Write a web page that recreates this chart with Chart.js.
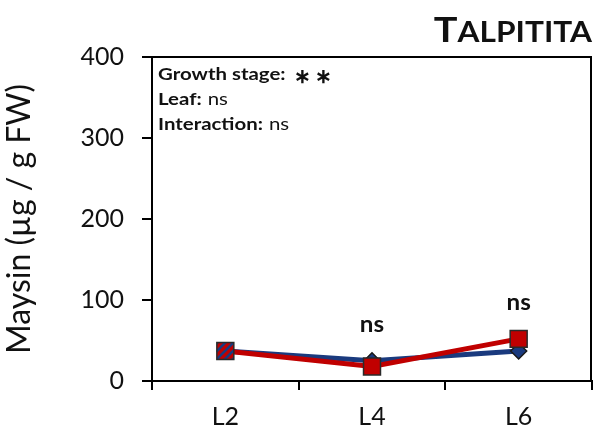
<!DOCTYPE html>
<html>
<head>
<meta charset="utf-8">
<script src="https://cdn.jsdelivr.net/npm/chart.js@4"></script>
<style>
  body { margin: 0; background: #fff; }
  #wrap { width: 594px; height: 434px; }
</style>
</head>
<body>
<div id="wrap"><canvas id="chart" width="594" height="434"></canvas></div>
<script>
const stages = ["L2", "L4", "L6"];
const blueValues = [37, 25, 37];
const redValues = [37, 18, 52];
const sigLabels = ["", "ns", "ns"];
const yTicks = [0, 100, 200, 300, 400];
const statLines = [["Growth stage:", "\u2217 \u2217"], ["Leaf:", "ns"], ["Interaction:", "ns"]];

const FONT = "Lato, 'Open Sans', sans-serif";
const navy = "#1a3a7e";
const red = "#c00000";
const STRETCH = 1.2; // the source text is a bit wide

// striped fill for the overlapping first point
function stripes() {
  const c = document.createElement("canvas");
  c.width = 8; c.height = 8;
  const g = c.getContext("2d");
  g.fillStyle = red;
  g.fillRect(0, 0, 8, 8);
  g.strokeStyle = navy;
  g.lineWidth = 2.6;
  g.beginPath();
  g.moveTo(-2, 2); g.lineTo(2, -2);
  g.moveTo(-2, 10); g.lineTo(10, -2);
  g.moveTo(6, 10); g.lineTo(10, 6);
  g.stroke();
  return g.createPattern(c, "repeat");
}

function wideText(c, txt, x, y, sx) {
  c.save();
  c.translate(x, y);
  c.scale(sx, 1);
  c.fillText(txt, 0, 0);
  c.restore();
  return c.measureText(txt).width * sx;
}

const ctx = document.getElementById("chart").getContext("2d");
const redFill = redValues.map((v, i) => i == 0 ? stripes() : red);

const extras = {
  id: "extras",
  afterDraw(chart) {
    const c = chart.ctx;
    const a = chart.chartArea;
    const x = chart.scales.x, y = chart.scales.y;
    c.save();
    // frame top and right
    c.strokeStyle = "#000";
    c.lineWidth = 2;
    c.beginPath();
    c.moveTo(a.left, a.top);
    c.lineTo(a.right - 1, a.top);
    c.lineTo(a.right - 1, a.bottom);
    c.stroke();

    // significance labels
    c.fillStyle = "#111";
    c.font = "bold 22px " + FONT;
    c.textAlign = "center";
    c.textBaseline = "middle";
    sigLabels.forEach((s, i) => {
      if (!s) return;
      const top = Math.max(blueValues[i], redValues[i]);
      wideText(c, s, x.getPixelForValue(i), y.getPixelForValue(top) - 36, 1.1);
    });

    // stats box
    c.textAlign = "left";
    statLines.forEach((l, i) => {
      const ty = a.top + 18 + i * 25;
      c.font = "bold 17px " + FONT;
      const w = wideText(c, l[0], a.left + 6, ty, STRETCH);
      if (l[1] == "ns") {
        c.font = "17px " + FONT;
        wideText(c, l[1], a.left + 6 + w + 6, ty, STRETCH);
      } else {
        c.font = "bold 20px " + FONT;
        wideText(c, l[1], a.left + 6 + w + 8, ty + 2, 1);
      }
    });

    // title in small caps
    c.textBaseline = "alphabetic";
    c.textAlign = "left";
    c.font = "bold 28px " + FONT;
    const wRest = c.measureText("ALPITITA").width * 1.13;
    c.font = "bold 35px " + FONT;
    const wT = c.measureText("T").width * 1.13;
    const x0 = 592 - wRest - wT;
    wideText(c, "T", x0, 42, 1.13);
    c.font = "bold 28px " + FONT;
    wideText(c, "ALPITITA", x0 + wT, 42, 1.13);
    c.restore();
  }
};

new Chart(ctx, {
  type: "line",
  data: {
    labels: stages,
    datasets: [{
      label: "red",
      data: redValues,
      borderColor: red,
      borderWidth: 5,
      pointStyle: "rect",
      pointRadius: 12,
      pointBackgroundColor: redFill,
      pointBorderColor: "#2a2a2a",
      pointBorderWidth: 1.5
    }, {
      label: "blue",
      data: blueValues,
      borderColor: navy,
      borderWidth: 5,
      pointStyle: "rectRot",
      pointRadius: 8,
      pointBackgroundColor: navy,
      pointBorderColor: "#1a1a1a",
      pointBorderWidth: 1.5
    }]
  },
  options: {
    responsive: false,
    animation: false,
    layout: { autoPadding: false, padding: { top: 57, right: 2, left: 0, bottom: 0 } },
    plugins: { legend: { display: false }, tooltip: { enabled: false } },
    scales: {
      x: {
        offset: true,
        grid: { offset: true, drawOnChartArea: false, drawTicks: true, tickLength: 9, color: "#000", lineWidth: 2 },
        border: { display: true, color: "#000", width: 2 },
        ticks: { color: "#111", font: { family: FONT, size: 25 }, padding: 12 },
        afterFit(s) { s.height = 53; s.paddingLeft = 0; s.paddingRight = 0; }
      },
      y: {
        min: 0,
        max: 400,
        afterBuildTicks(s) { s.ticks = yTicks.map(v => ({ value: v })); },
        grid: { drawOnChartArea: false, drawTicks: true, tickLength: 10, color: "#000", lineWidth: 2 },
        border: { display: true, color: "#000", width: 2 },
        ticks: { color: "#111", font: { family: FONT, size: 25 }, padding: 18 },
        title: { display: true, text: "Maysin (\u00b5g / g FW)", color: "#111", font: { family: FONT, size: 32 }, padding: { top: 0, bottom: 8 } },
        afterFit(s) { s.width = 152; s.paddingTop = 0; s.paddingBottom = 0; }
      }
    }
  },
  plugins: [extras]
});
</script>
</body>
</html>
